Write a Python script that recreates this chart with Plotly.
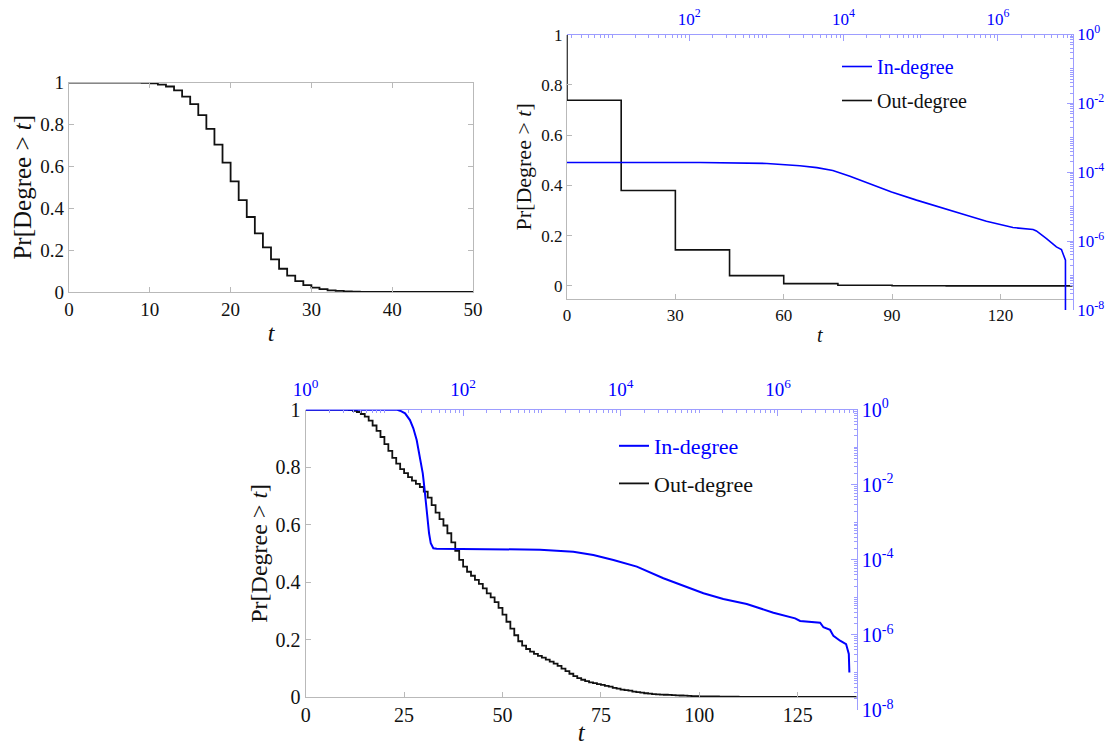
import plotly.graph_objects as go

# ---------------- data ----------------
# Top-left: Pr[Degree > t], step at integer t
tl_t = list(range(0, 41)) + [50]
tl_p = [1.0, 1.0, 1.0, 1.0, 1.0, 1.0, 1.0, 1.0, 0.999, 0.998,
        0.996, 0.990, 0.981, 0.962, 0.933, 0.897, 0.844, 0.779, 0.703, 0.618,
        0.528, 0.439, 0.358, 0.280, 0.213, 0.156, 0.111, 0.078, 0.052, 0.033,
        0.021, 0.014, 0.008, 0.005, 0.003, 0.002, 0.001, 0.0006, 0.0003, 0.0002,
        0.0001, 0.0]

# Top-right: out-degree (linear axes) steps of 15
tr_out_t = [0, 0, 15, 30, 45, 60, 75, 90, 105, 120, 135, 140]
tr_out_p = [1.0, 0.739, 0.380, 0.1435, 0.041, 0.0093, 0.0025, 0.0009, 0.0004, 0.0002, 0.0001, 0.0001]

# Top-right: in-degree (log axes)
tr_in_x = [1.0, 138, 1014, 2716, 4510, 7260, 1.21e4, 1.99e4, 4.19e4, 8.83e4, 1.95e5,
           3.92e5, 7.11e5, 1.57e6, 2.86e6, 3.16e6, 4.27e6, 5.74e6, 6.67e6, 7.52e6, 7.52e6]
tr_in_p = [1.93e-4, 1.91e-4, 1.80e-4, 1.55e-4, 1.36e-4, 1.13e-4, 7.7e-5, 4.99e-5, 2.69e-5, 1.55e-5,
           8.87e-6, 5.66e-6, 3.79e-6, 2.48e-6, 2.17e-6, 1.98e-6, 1.19e-6, 6.78e-7, 5.70e-7, 2.79e-7, 1e-9]

# Bottom: out-degree (linear axes), steps of 1
bt_out_t = list(range(0, 101)) + [105, 110, 120, 130, 140]
bt_out_p = [1.0, 1.0, 1.0, 1.0, 1.0, 1.0, 1.0, 1.0, 1.0, 1.0,
            1.0, 0.999, 0.996, 0.992, 0.985, 0.976, 0.962, 0.945, 0.926, 0.905,
            0.880, 0.857, 0.832, 0.812, 0.793, 0.779, 0.765, 0.753, 0.742, 0.731,
            0.715, 0.694, 0.668, 0.642, 0.619, 0.597, 0.570, 0.538, 0.509, 0.477,
            0.454, 0.436, 0.422, 0.408, 0.394, 0.378, 0.361, 0.347, 0.330, 0.310,
            0.287, 0.262, 0.238, 0.215, 0.194, 0.179, 0.167, 0.158, 0.150, 0.143,
            0.137, 0.130, 0.123, 0.116, 0.108, 0.099, 0.090, 0.081, 0.073, 0.066,
            0.060, 0.055, 0.051, 0.048, 0.045, 0.042, 0.039, 0.036, 0.032, 0.029,
            0.026, 0.024, 0.022, 0.019, 0.017, 0.015, 0.013, 0.012, 0.010, 0.009,
            0.0085, 0.0078, 0.0071, 0.0064, 0.0058, 0.0052, 0.0047, 0.0040, 0.0033, 0.0026,
            0.0020, 0.0008, 0.0004, 0.0002, 0.0001, 0.0001]

# Bottom: in-degree (log axes)
bt_in_x = [1, 14.6, 15.8, 18.3, 21.1, 23.3, 25.7, 28.3, 30.7, 32.1, 33.8, 35.1, 36.9, 38.8, 41.8,
           46.2, 948, 2512, 4510, 8110, 1.61e4, 3.50e4, 6.94e4, 1.13e5, 2.02e5, 4.01e5, 8.75e5,
           1.65e6, 1.91e6, 3.43e6, 3.78e6, 4.59e6, 5.06e6, 6.15e6, 7.33e6, 7.94e6, 8.07e6]
bt_in_p = [1, 1, 0.94, 0.80, 0.53, 0.32, 0.156, 0.056, 0.0202, 8.9e-3, 3.2e-3, 1.15e-3, 5.1e-4,
           2.76e-4, 2.03e-4, 1.98e-4, 1.87e-4, 1.65e-4, 1.35e-4, 9.9e-5, 6.6e-5, 3.23e-5, 1.93e-5,
           1.29e-5, 9.06e-6, 6.67e-6, 3.91e-6, 2.77e-6, 2.35e-6, 2.12e-6, 1.60e-6, 1.36e-6, 9.4e-7,
           7.0e-7, 5.7e-7, 3.1e-7, 1.0e-7]

lin_y_ticks = [0, 0.2, 0.4, 0.6, 0.8, 1]
lin_y_text = ["0", "0.2", "0.4", "0.6", "0.8", "1"]
log_exps_x = [0, 2, 4, 6]
log_exps_y = [0, -2, -4, -6, -8]

# ---------------- styling ----------------
W, H = 1111, 746
FONT = "Liberation Serif"
GRAY = "#b9b9b9"
LBLUE = "#9d9dff"
BLUE = "#0000ff"
BLACK = "#111111"


def dx(a, b):
    return [a / W, b / W]


def dy(top, bottom):
    return [1 - bottom / H, 1 - top / H]


def sup(e):
    return "10<sup>%d</sup>" % e


x_major = [10.0 ** e for e in log_exps_x]
x_text = [sup(e) for e in log_exps_x]
y_major = [10.0 ** e for e in log_exps_y]
y_text = [sup(e) for e in log_exps_y]
x_minor = [m * 10.0 ** e for e in range(0, 8) for m in range(1, 10) if not (m == 1 and e % 2 == 0)]
y_minor = [m * 10.0 ** e for e in range(-8, 0) for m in range(1, 10) if not (m == 1 and e % 2 == 0)]


def lin_axis(domain, anchor, rng, tickvals, ticktext, fs, title=None, tfs=None, standoff=6):
    d = dict(domain=domain, anchor=anchor, range=rng, tickmode="array", tickvals=tickvals,
             ticktext=ticktext, ticks="inside", ticklen=5, tickcolor=GRAY, tickwidth=1,
             showline=True, linecolor=GRAY, linewidth=1.2, showgrid=False, zeroline=False,
             automargin=False, fixedrange=True,
             tickfont=dict(family=FONT, size=fs, color=BLACK))
    if title:
        d["title"] = dict(text=title, font=dict(family=FONT, size=tfs, color=BLACK), standoff=standoff)
    return d


def log_axis(domain, anchor, side, rng, tickvals, ticktext, minorvals, fs, lso=0):
    return dict(domain=domain, anchor=anchor, side=side, type="log", range=rng, tickmode="array",
                tickvals=tickvals, ticktext=ticktext, ticks="inside", ticklen=6, tickcolor=LBLUE,
                tickwidth=1, showline=True, linecolor=LBLUE, linewidth=1.2, showgrid=False,
                zeroline=False, automargin=False, fixedrange=True, ticklabelstandoff=lso,
                tickfont=dict(family=FONT, size=fs, color=BLUE),
                minor=dict(tickmode="array", tickvals=minorvals, ticks="inside", ticklen=3,
                           tickcolor=LBLUE, tickwidth=1, showgrid=False))


fig = go.Figure()

# top-left
fig.add_trace(go.Scatter(x=tl_t, y=tl_p, mode="lines", line=dict(color=BLACK, width=1.8, shape="hv"),
                         xaxis="x", yaxis="y", showlegend=False, hoverinfo="skip"))
# top-right
fig.add_trace(go.Scatter(x=tr_in_x, y=tr_in_p, mode="lines", line=dict(color=BLUE, width=1.6),
                         xaxis="x3", yaxis="y3", name="<span style='color:#0000ff'>In-degree</span>",
                         legend="legend", legendgroup="tr_in"))
fig.add_trace(go.Scatter(x=tr_out_t, y=tr_out_p, mode="lines", line=dict(color=BLACK, width=1.6, shape="hv"),
                         xaxis="x2", yaxis="y2", name="Out-degree", legend="legend", legendgroup="tr_out"))
# bottom
fig.add_trace(go.Scatter(x=bt_in_x, y=bt_in_p, mode="lines", line=dict(color=BLUE, width=2),
                         xaxis="x5", yaxis="y5", name="<span style='color:#0000ff'>In-degree</span>",
                         legend="legend2", legendgroup="bt_in"))
fig.add_trace(go.Scatter(x=bt_out_t, y=bt_out_p, mode="lines", line=dict(color=BLACK, width=1.8, shape="hv"),
                         xaxis="x4", yaxis="y4", name="Out-degree", legend="legend2", legendgroup="bt_out"))

ytitle = "Pr[Degree > <i>t</i>]"

tl_x = lin_axis(dx(69, 473), "y", [0, 50], [0, 10, 20, 30, 40, 50], ["0", "10", "20", "30", "40", "50"],
                19, "<i>t</i>", 24, 5)
tl_x["mirror"] = "ticks"
tl_y = lin_axis(dy(82.5, 292), "x", [0, 1], lin_y_ticks, lin_y_text, 19, ytitle, 25, 1)
tl_y["mirror"] = "ticks"

tr_x = lin_axis(dx(567, 1072.7), "y2", [0, 140], [0, 30, 60, 90, 120], ["0", "30", "60", "90", "120"],
                17, "<i>t</i>", 20, 4)
tr_y = lin_axis(dy(34.7, 299), "x2", [-0.052, 1], lin_y_ticks, lin_y_text, 17, ytitle, 22, 3)
tr_x3 = log_axis(dx(567, 1072.7), "y3", "top", [0.416, 6.97], x_major, x_text, x_minor, 17, 2)
tr_y3 = log_axis(dy(34.5, 310), "x3", "right", [-8, 0], y_major, y_text, y_minor, 17)

bt_x = lin_axis(dx(305.7, 856.7), "y4", [0, 140], [0, 25, 50, 75, 100, 125],
                ["0", "25", "50", "75", "100", "125"], 20, "<i>t</i>", 25, 6)
bt_y = lin_axis(dy(409.7, 697), "x4", [0, 1], lin_y_ticks, lin_y_text, 20, ytitle, 24, 1)
bt_x5 = log_axis(dx(305.7, 856.7), "y5", "top", [0, 7], x_major, x_text, x_minor, 19, 5)
bt_y5 = log_axis(dy(409.7, 710), "x5", "right", [-8, 0], y_major, y_text, y_minor, 20)

fig.update_layout(
    width=W, height=H, margin=dict(l=0, r=0, t=0, b=0, autoexpand=False),
    paper_bgcolor="white", plot_bgcolor="rgba(0,0,0,0)",
    font=dict(family=FONT, color=BLACK),
    xaxis=tl_x, yaxis=tl_y,
    xaxis2=tr_x, yaxis2=tr_y, xaxis3=tr_x3, yaxis3=tr_y3,
    xaxis4=bt_x, yaxis4=bt_y, xaxis5=bt_x5, yaxis5=bt_y5,
    legend=dict(x=837 / W, y=1 - 47 / H, xanchor="left", yanchor="top", bgcolor="rgba(0,0,0,0)",
                font=dict(family=FONT, size=20, color=BLACK), itemwidth=30, traceorder="grouped",
                tracegroupgap=5),
    legend2=dict(x=614 / W, y=1 - 425 / H, xanchor="left", yanchor="top", bgcolor="rgba(0,0,0,0)",
                 font=dict(family=FONT, size=22, color=BLACK), itemwidth=30, traceorder="grouped",
                 tracegroupgap=6),
    showlegend=True,
)

fig.write_html("out.html")
